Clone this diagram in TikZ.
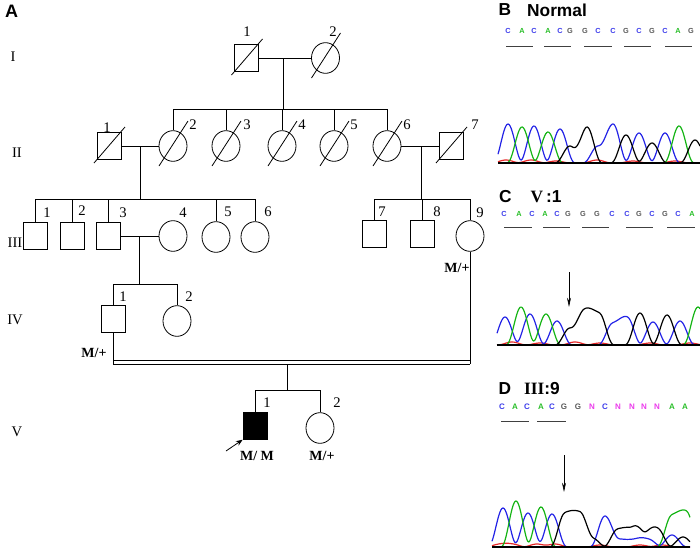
\documentclass[tikz,border=0pt]{standalone}
\usepackage{fontspec}
\setmainfont{Liberation Serif}
\newfontfamily\hsans{Liberation Sans}
\usetikzlibrary{shapes.geometric,arrows.meta}
\definecolor{sb}{RGB}{60,60,235}
\definecolor{sg}{RGB}{40,190,40}
\definecolor{sk}{RGB}{90,90,90}
\definecolor{sm}{RGB}{235,60,235}
\definecolor{tb}{RGB}{35,35,230}
\definecolor{tg}{RGB}{20,180,20}
\definecolor{tr}{RGB}{230,40,40}
\newcommand\deadsq[1]{\draw (#1.center) ++(-15,17) -- ++(31,-36);}
\newcommand\deadci[1]{\draw (#1.center) ++(-14,20) -- ++(29,-45);}
\begin{document}
\begin{tikzpicture}[x=0.75pt,y=-0.75pt,line width=0.6pt,
  male/.style={draw,rectangle,minimum width=18pt,minimum height=20pt,inner sep=0pt},
  female/.style={draw,ellipse,minimum width=21pt,minimum height=23pt,inner sep=0pt},
  num/.style={font=\fontsize{11}{12}\selectfont,inner sep=0pt},
  geno/.style={font=\bfseries\fontsize{10.5}{12}\selectfont,inner sep=0pt},
  gen/.style={font=\fontsize{11}{12}\selectfont,inner sep=0pt},
  panel/.style={font=\hsans\bfseries\fontsize{13}{14}\selectfont,inner sep=0pt},
  seq/.style={font=\hsans\bfseries\fontsize{5.5}{6}\selectfont,inner sep=0pt},
  uline/.style={line width=0.6pt,black!75},
  trace/.style={line width=0.9pt},
  base/.style={line width=2pt,black},
  declare function={bq(\x,\c)=max(0,1-((\x-\c)/16)*((\x-\c)/16));
                    pk(\x,\c)=bq(\x,\c)*bq(\x,\c)*bq(\x,\c);}
]
\useasboundingbox (0,0) rectangle (700,550);

% ---------- Panel A: pedigree ----------
\node[panel,font=\hsans\bfseries\fontsize{13.5}{14}\selectfont] (pA) at (11.5,11.5) {A};
\node[gen] (gI) at (13,57) {I};
\node[gen] (gII) at (17,153) {II};
\node[gen] (gIII) at (15,243) {III};
\node[gen] (gIV) at (15,320) {IV};
\node[gen] (gV) at (17,432) {V};

% Generation I
\node[male] (I1) at (246.5,58) {};
\node[female] (I2) at (325.5,58) {};
\deadsq{I1} \deadci{I2}
\node[num] (lI1) at (247,32) {1};
\node[num] (lI2) at (333,32) {2};
\coordinate (mI) at (283,58);
\coordinate (sI) at (283,109);
\draw (I1.east) -- (I2.west);
\draw (mI) -- (sI);

% Generation II
\node[male] (II1) at (109,146) {};
\node[female] (II2) at (173,146) {};
\node[female] (II3) at (226,146) {};
\node[female] (II4) at (282,146) {};
\node[female] (II5) at (334,146) {};
\node[female] (II6) at (387,146) {};
\node[male] (II7) at (451,146) {};
\deadsq{II1} \deadci{II2} \deadci{II3} \deadci{II4} \deadci{II5} \deadci{II6} \deadsq{II7}
\node[num] (lII1) at (107,128) {1};
\node[num] (lII2) at (193,125) {2};
\node[num] (lII3) at (247,125) {3};
\node[num] (lII4) at (302,125) {4};
\node[num] (lII5) at (354,125) {5};
\node[num] (lII6) at (407,125) {6};
\node[num] (lII7) at (475,125) {7};
\draw (II2.north |- sI) -- (II6.north |- sI);
\foreach \n in {II2,II3,II4,II5,II6} \draw (\n.north |- sI) -- (\n.north);
\draw (II1.east) -- (II2.west);
\draw (II6.east) -- (II7.west);
\coordinate (mII) at (140,146);
\coordinate (sIIa) at (140,199);
\coordinate (mIIb) at (421,146);
\coordinate (sIIb) at (421,199);
\draw (mII) -- (sIIa);
\draw (mIIb) -- (sIIb);

% Generation III
\node[male] (III1) at (35,236) {};
\node[male] (III2) at (72,236) {};
\node[male] (III3) at (108,236) {};
\node[female] (III4) at (173,236) {};
\node[female] (III5) at (216,237) {};
\node[female] (III6) at (255,237) {};
\node[male] (III7) at (374,234) {};
\node[male] (III8) at (422,234) {};
\node[female] (III9) at (470,236) {};
\node[num] (lIII1) at (47,213) {1};
\node[num] (lIII2) at (82,211) {2};
\node[num] (lIII3) at (123,213) {3};
\node[num] (lIII4) at (183,213) {4};
\node[num] (lIII5) at (228,212) {5};
\node[num] (lIII6) at (268,212) {6};
\node[num] (lIII7) at (382,212) {7};
\node[num] (lIII8) at (437,212) {8};
\node[num] (lIII9) at (480,213) {9};
\draw (III1.north |- sIIa) -- (III6.north |- sIIa);
\foreach \n in {III1,III2,III3,III5,III6} \draw (\n.north |- sIIa) -- (\n.north);
\draw (III7.north |- sIIb) -- (III9.north |- sIIb);
\foreach \n in {III7,III8,III9} \draw (\n.north |- sIIb) -- (\n.north);
\draw (III3.east) -- (III4.west);
\coordinate (mIII) at (139,236);
\coordinate (sIII) at (139,284);
\draw (mIII) -- (sIII);
\node[geno] (gIII9) at (457,268) {M/+};

% Generation IV
\node[male] (IV1) at (113,319) {};
\node[female] (IV2) at (177,321) {};
\node[num] (lIV1) at (123,297) {1};
\node[num] (lIV2) at (189,297) {2};
\draw (IV1.north |- sIII) -- (IV2.north |- sIII);
\foreach \n in {IV1,IV2} \draw (\n.north |- sIII) -- (\n.north);
\node[geno] (gIV1) at (94,353) {M/+};
\coordinate (cL) at (113,360);
\coordinate (cR) at (470,360);
\coordinate (cLb) at (113,364);
\coordinate (cRb) at (470,364);
\draw (IV1.south) -- (cLb);
\draw (III9.south) -- (cRb);
\draw (cL) -- (cR);
\draw (cLb) -- (cRb);
\coordinate (mIV) at (287,364);
\coordinate (sIV) at (287,390);
\draw (mIV) -- (sIV);

% Generation V
\node[male,fill=black] (V1) at (255,426) {};
\node[female] (V2) at (320,428) {};
\node[num] (lV1) at (267,403) {1};
\node[num] (lV2) at (337,403) {2};
\draw (V1.north |- sIV) -- (V2.north |- sIV);
\foreach \n in {V1,V2} \draw (\n.north |- sIV) -- (\n.north);
\node[geno] (gV1) at (257,456) {M/ M};
\node[geno] (gV2) at (322,456) {M/+};
\coordinate (pr) at (226,451);
\draw[-{Stealth[length=5pt,width=4pt]}] (pr) -- (V1.south west);

% ---------- Panel B ----------
\node[panel,font=\hsans\bfseries\fontsize{13}{14}\selectfont] (pB) at (505,10) {B};
\node[panel,font=\hsans\bfseries\fontsize{13}{14}\selectfont] (pBt) at (557,10) {Normal};
\foreach \lx/\lt/\lc [count=\i] in {508/C/sb,522/A/sg,534/C/sb,548/A/sg,560/C/sb,570/G/sk,585/G/sk,598/C/sb,613/C/sb,626/G/sk,639/C/sb,652/G/sk,665/C/sb,678/A/sg,691/G/sk}
  \node[seq,text=\lc] (sB\i) at (\lx,31) {\lt};
\foreach \a/\b in {506/533,544/571,584/612,624/651,665/692} \draw[uline] (\a,46) -- (\b,46);
\draw[trace,tr] plot[domain=498:700,samples=120] (\x,{163-3*pk(\x,506)-3*pk(\x,531)-2*pk(\x,556)-3*pk(\x,597)-2*pk(\x,633)-2*pk(\x,675)});
\draw[trace,tb] plot[domain=498:700,samples=200] (\x,{163-39*pk(\x,508)-37*pk(\x,534)-34*pk(\x,560)-17*pk(\x,598)-39*pk(\x,613)-30*pk(\x,639)-30*pk(\x,665)});
\draw[trace,tg] plot[domain=498:700,samples=200] (\x,{163-36*pk(\x,522)-31*pk(\x,548)-37*pk(\x,679)});
\draw[trace,black] plot[domain=498:700,samples=200] (\x,{163-17*pk(\x,570)-36*pk(\x,587)-28*pk(\x,626)-20*pk(\x,652)-23*pk(\x,695)});
\coordinate (bB1) at (498,163);
\coordinate (bB2) at (700,163);
\draw[base] (bB1) -- (bB2);

% ---------- Panel C ----------
\node[panel,font=\hsans\bfseries\fontsize{13}{14}\selectfont] (pC) at (505.5,197) {C};
\node[panel,font=\hsans\bfseries\fontsize{13}{14}\selectfont] (pCt) at (546,197) {{\rmfamily V}\,:1};
\foreach \lx/\lt/\lc [count=\i] in {504/C/sb,519/A/sg,532/C/sb,545/A/sg,557/C/sb,568/G/sk,583/G/sk,597/G/sk,612/C/sb,627/C/sb,639/G/sk,652/C/sb,665/G/sk,678/C/sb,692/A/sg}
  \node[seq,text=\lc] (sC\i) at (\lx,214) {\lt};
\foreach \a/\b in {504/532,543/570,582/609,626/653,667/695} \draw[uline] (\a,227) -- (\b,227);
\coordinate (aC1) at (569,272);
\coordinate (aC2) at (569,307);
\draw[line width=0.5pt,-{Stealth[length=7pt,width=3pt]}] (aC1) -- (aC2);
\draw[trace,tr] plot[domain=497:700,samples=120] (\x,{345-3*pk(\x,512)-2*pk(\x,540)-3*pk(\x,575)-2*pk(\x,600)-2*pk(\x,650)-2*pk(\x,690)});
\draw[trace,tb] plot[domain=497:700,samples=200] (\x,{345-28*pk(\x,505)-31*pk(\x,530)-24*pk(\x,557)-22*pk(\x,613)-28*pk(\x,627)-23*pk(\x,653)-24*pk(\x,680)});
\draw[trace,tg] plot[domain=497:700,samples=200] (\x,{345-38*pk(\x,521)-31*pk(\x,546)-38*pk(\x,698)});
\draw[trace,black] plot[domain=497:700,samples=200] (\x,{345-17*pk(\x,570)-36*pk(\x,585)-32*pk(\x,599)-32*pk(\x,640)-30*pk(\x,667)});
\coordinate (bC1) at (497,345);
\coordinate (bC2) at (700,345);
\draw[base] (bC1) -- (bC2);

% ---------- Panel D ----------
\node[panel,font=\hsans\bfseries\fontsize{13}{14}\selectfont] (pD) at (505,389) {D};
\node[panel,font=\hsans\bfseries\fontsize{13}{14}\selectfont] (pDt) at (542,389) {{\rmfamily III}:9};
\foreach \lx/\lt/\lc [count=\i] in {502/C/sb,515/A/sg,527/C/sb,541/A/sg,552/C/sb,564/G/sk,578/G/sk,592/N/sm,605/C/sb,618/N/sm,632/N/sm,644/N/sm,657/N/sm,672/A/sg,685/A/sg}
  \node[seq,font=\hsans\bfseries\fontsize{6}{7}\selectfont,text=\lc] (sD\i) at (\lx,407) {\lt};
\foreach \a/\b in {501/529,537/566} \draw[uline] (\a,421) -- (\b,421);
\coordinate (aD1) at (564,455);
\coordinate (aD2) at (564,492);
\draw[line width=0.5pt,-{Stealth[length=7pt,width=3pt]}] (aD1) -- (aD2);
\draw[trace,tr] plot[domain=492:690,samples=120] (\x,{547-3*pk(\x,500)-3*pk(\x,512)-3*pk(\x,537)-3*pk(\x,555)-2*pk(\x,600)-2*pk(\x,640)-2*pk(\x,662)});
\draw[trace,tb] plot[domain=492:690,samples=200] (\x,{547-39*pk(\x,503)-34*pk(\x,528)-33*pk(\x,552)-31*pk(\x,605)-8*pk(\x,620)-8*pk(\x,635)-8*pk(\x,648)-12*pk(\x,672)});
\draw[trace,tg] plot[domain=492:690,samples=200] (\x,{547-46*pk(\x,516)-40*pk(\x,541)-32*pk(\x,672)-36*pk(\x,686)});
\draw[trace,black] plot[domain=492:690,samples=200] (\x,{547-34*pk(\x,565)-35*pk(\x,579)-9*pk(\x,592)-18*pk(\x,618)-19*pk(\x,632)-13*pk(\x,644)-19*pk(\x,657)-10*pk(\x,683)});
\coordinate (bD1) at (492,547);
\coordinate (bD2) at (690,547);
\draw[base] (bD1) -- (bD2);
\end{tikzpicture}
\end{document}
